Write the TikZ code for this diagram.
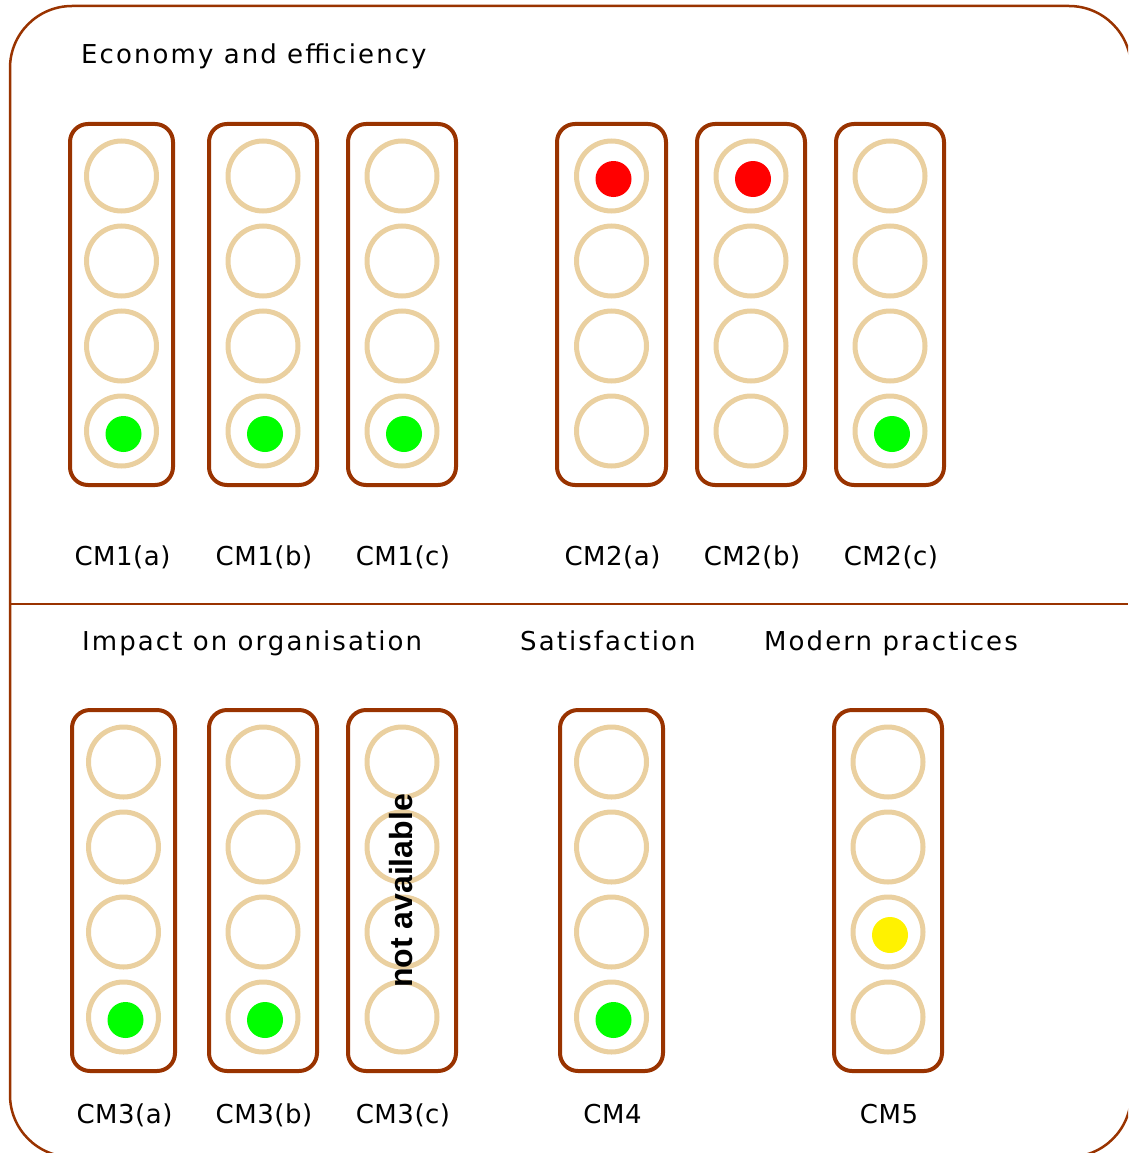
\documentclass[tikz,border=0pt]{standalone}
\usepackage{fontspec}
\setmainfont{DejaVu Sans}[LetterSpace=8]
\newfontfamily\lblfont{DejaVu Sans}[LetterSpace=2]
\newfontfamily\nafont{Liberation Sans}
\definecolor{brd}{RGB}{153,51,0}
\definecolor{tanc}{RGB}{234,208,160}
\begin{document}
\begin{tikzpicture}[x=1pt,y=-1pt,
  housing/.style={draw=brd, line width=4pt, rounded corners=18pt, minimum width=#1, minimum height=361pt, inner sep=0pt},
  lamp/.style={circle, draw=tanc, line width=5pt, minimum size=70pt, inner sep=0pt},
  lit/.style={circle, fill=#1, minimum size=36pt, inner sep=0pt},
  title/.style={anchor=base west, font=\fontsize{26}{30}\selectfont, inner sep=0pt},
  lbl/.style={anchor=base, font=\lblfont\fontsize{26}{30}\selectfont, inner sep=0pt}]
\useasboundingbox (0,0) rectangle (1128,1153);
\begin{scope}
\clip (0,0) rectangle (1128,1153);
\draw[brd, line width=2.5pt, rounded corners=62pt] (10,6) rectangle (1131,1157);
\end{scope}
\coordinate (dl) at (10,604);
\coordinate (dr) at (1128,604);
\draw[brd, line width=2.5pt] (dl) -- (dr);

\node[title] (t1) at (81,64) {Economy and efficiency};
\node[title] (t2) at (82,650) {Impact on organisation};
\node[title] (t3) at (520,650) {Satisfaction};
\node[title] (t4) at (764,650) {Modern practices};

\foreach \nm/\bx/\bw/\by/\ly/\li/\lc/\lab in {
  a1/121.5/103/304.5/565/4/green/CM1(a),
  b1/263/108/304.5/565/4/green/CM1(b),
  c1/402/108/304.5/565/4/green/CM1(c),
  a2/611.5/109/304.5/565/1/red/CM2(a),
  b2/751/108/304.5/565/1/red/CM2(b),
  c2/890/108/304.5/565/4/green/CM2(c),
  a3/123.5/103/890.5/1123/4/green/CM3(a),
  b3/263/108/890.5/1123/4/green/CM3(b),
  c3/402/108/890.5/1123/0/white/CM3(c),
  d4/611.5/103/890.5/1123/4/green/CM4,
  e5/888/108/890.5/1123/3/yellow/CM5}{
  \node[housing=\bw pt] (h\nm) at (\bx,\by) {};
  \foreach \k in {1,2,3,4}{
    \node[lamp] (l\nm\k) at (\bx,\by-128.5+85*\k-85) {};
  }
  \ifnum\li>0
    \node[lit=\lc] (d\nm) at ([shift={(2,3)}]l\nm\li.center) {};
  \fi
  \node[lbl] (cap\nm) at (\bx+1,\ly) {\lab};
}
\node[rotate=90, font=\nafont\bfseries\fontsize{32}{34}\selectfont, inner sep=0pt] (na) at (401,891) {not available};
\end{tikzpicture}
\end{document}
